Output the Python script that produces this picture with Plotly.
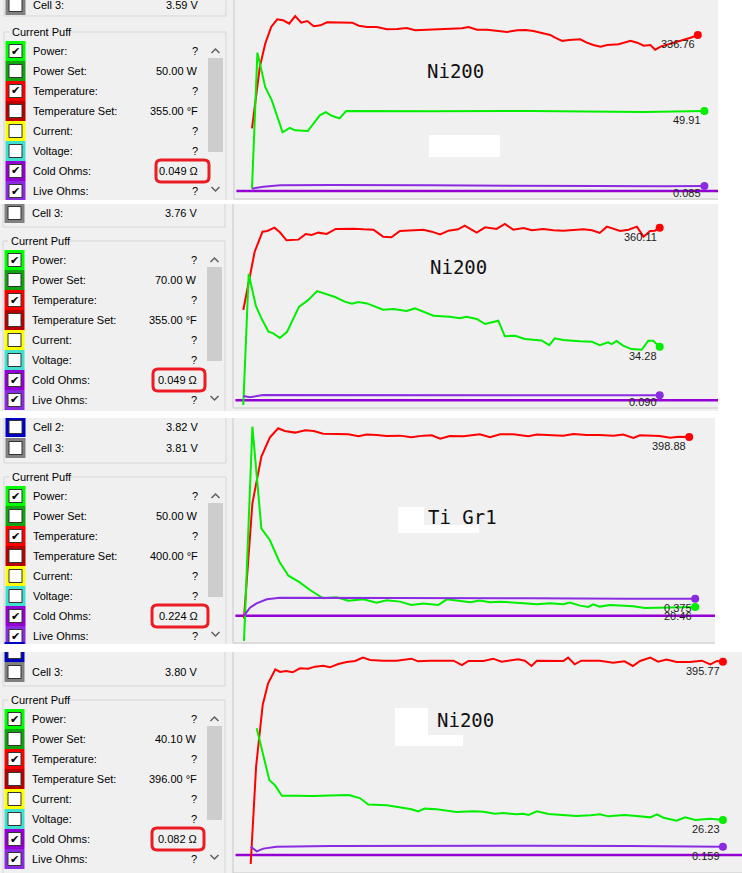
import plotly.graph_objects as go

W, H = 742, 873
PX_PER_S = 60          # chart time scale, pixels per second
UI_FONT = "Liberation Sans"
BG = "#f0f0f0"

# ---------------- data ----------------
row_labels = ["Power:", "Power Set:", "Temperature:", "Temperature Set:",
              "Current:", "Voltage:", "Cold Ohms:", "Live Ohms:"]
row_colors = ["#00ff00", "#10a410", "#ff0000", "#b80000",
              "#ffff00", "#40e0d0", "#9400d3", "#8a2be2"]
row_checked = [True, False, True, False, False, False, True, True]

materials = ["Ni200", "Ni200", "Ti Gr1", "Ni200"]
power_set = ["50.00 W", "70.00 W", "50.00 W", "40.10 W"]
temp_set = ["355.00 °F", "355.00 °F", "400.00 °F", "396.00 °F"]
cold_ohms = [0.049, 0.049, 0.224, 0.082]
cell2_volts = [None, None, "3.82 V", None]
cell3_volts = ["3.59 V", "3.76 V", "3.81 V", "3.80 V"]

# puff 1 (Ni200, 50 W)
p1_temp_t = [0, 0.13, 0.22, 0.32, 0.42, 0.52, 0.62, 0.72, 0.82, 0.92, 1.03, 1.14, 1.25, 1.47, 1.67,
             1.78, 1.92, 2.08, 2.25, 2.42, 2.58, 2.72, 3.03, 3.33, 3.5, 3.61, 3.75, 3.92, 4.08, 4.25,
             4.42, 4.56, 4.69, 4.83, 4.97, 5.06, 5.17, 5.28, 5.47, 5.58, 5.69, 5.81, 5.92, 6.11, 6.31,
             6.42, 6.53, 6.64, 6.72, 6.81, 6.92, 7.03, 7.17, 7.31, 7.43]
p1_temp = [143.9, 270.6, 318.8, 353.3, 369.1, 367.1, 360.2, 376.0, 362.2, 365.7, 354.7, 356.7, 362.9,
           362.2, 362.2, 356.0, 353.3, 353.3, 348.5, 349.2, 351.2, 346.4, 348.5, 349.2, 350.5, 353.3,
           347.8, 347.8, 345.0, 343.0, 346.4, 347.1, 345.0, 341.6, 336.8, 330.6, 324.4, 326.4, 327.8,
           320.9, 316.1, 312.7, 316.1, 317.5, 325.0, 320.9, 314.7, 316.1, 306.4, 312.7, 316.8, 320.2,
           326.4, 331.2, 336.76]
p1_power_t = [0, 0.09, 0.22, 0.33, 0.51, 0.63, 0.72, 0.93, 1.13, 1.23, 1.33, 1.46, 1.57, 2.97, 4.64,
              6.53, 7.54]
p1_power = [5.4, 83.4, 63.7, 56.0, 37.7, 40.2, 38.8, 38.4, 47.4, 49.3, 47.2, 45.7, 49.9, 49.7, 49.9,
            49.3, 49.91]
p1_live_t = [0, 0.19, 0.47, 1.31, 2.97, 4.64, 5.75, 6.86, 7.54]
p1_live = [0.066, 0.080, 0.090, 0.092, 0.090, 0.090, 0.085, 0.083, 0.085]

# puff 2 (Ni200, 70 W)
p2_temp_t = [0, 0.19, 0.32, 0.4, 0.52, 0.61, 0.72, 0.92, 1.04, 1.14, 1.25, 1.39, 1.54, 1.83, 2.0,
             2.17, 2.33, 2.47, 2.61, 2.81, 3.0, 3.14, 3.28, 3.42, 3.58, 3.69, 3.89, 4.03, 4.22, 4.36,
             4.5, 4.67, 4.81, 5.0, 5.17, 5.33, 5.5, 5.67, 5.81, 5.94, 6.06, 6.28, 6.42, 6.56, 6.67,
             6.78, 6.86, 6.94]
p2_temp = [193.9, 311.6, 352.0, 353.4, 360.1, 350.7, 334.5, 335.9, 347.3, 345.3, 350.0, 347.3, 357.4,
           358.0, 356.7, 356.0, 341.9, 340.6, 353.4, 354.7, 356.0, 352.0, 346.6, 354.0, 356.7, 364.1,
           350.0, 360.8, 357.4, 367.5, 356.0, 359.4, 354.7, 357.4, 354.7, 354.0, 356.0, 356.7, 354.7,
           349.3, 362.1, 353.4, 356.0, 362.1, 341.9, 353.4, 354.0, 360.11]
p2_power_t = [0, 0.09, 0.21, 0.31, 0.42, 0.5, 0.61, 0.73, 0.93, 1.08, 1.23, 1.39, 1.53, 1.69, 1.81,
              1.92, 2.06, 2.33, 2.5, 2.72, 2.86, 3.17, 3.44, 3.61, 3.72, 3.89, 4.03, 4.25, 4.36, 4.53,
              4.69, 4.97, 5.1, 5.19, 5.33, 5.61, 5.81, 5.94, 6.08, 6.14, 6.22, 6.33, 6.47, 6.64, 6.75,
              6.83, 6.94]
p2_power = [0.6, 76.3, 57.8, 50.1, 42.9, 42.0, 39.3, 42.9, 57.4, 61.2, 66.4, 64.7, 63.0, 60.3, 59.1,
            60.1, 59.3, 55.7, 56.0, 54.9, 56.4, 52.2, 51.6, 50.7, 51.6, 50.3, 47.4, 49.3, 40.3, 40.6,
            38.7, 37.9, 35.2, 39.1, 38.1, 37.4, 37.2, 35.2, 36.8, 35.8, 37.6, 34.9, 32.9, 32.5, 37.7,
            37.7, 34.28]
p2_live_t = [0, 0.11, 0.33, 0.89, 2.56, 4.22, 5.89, 6.94]
p2_live = [0.084, 0.073, 0.093, 0.093, 0.090, 0.090, 0.090, 0.090]

# puff 3 (Ti Gr1, 50 W)
p3_temp_t = [0, 0.14, 0.29, 0.43, 0.57, 0.68, 0.85, 1.02, 1.16, 1.32, 1.54, 1.74, 1.91, 2.04, 2.21,
             2.38, 2.6, 2.79, 2.99, 3.13, 3.27, 3.43, 3.66, 3.93, 4.1, 4.27, 4.49, 4.74, 4.88, 5.1,
             5.32, 5.49, 5.71, 5.93, 6.16, 6.32, 6.49, 6.6, 6.77, 6.93, 7.1, 7.24, 7.42]
p3_temp = [44.3, 269.2, 360.4, 397.6, 415.9, 410.6, 407.4, 411.9, 410.6, 405.4, 404.8, 404.1, 400.2,
           403.5, 402.8, 400.9, 401.5, 398.2, 401.5, 402.2, 395.6, 400.9, 400.2, 404.1, 398.2, 404.1,
           404.1, 400.2, 403.5, 402.2, 401.5, 404.8, 402.8, 402.8, 401.5, 403.5, 397.0, 402.2, 401.5,
           400.9, 397.6, 399.5, 398.88]
p3_power_t = [0, 0.14, 0.29, 0.43, 0.59, 0.74, 0.93, 1.1, 1.32, 1.54, 1.74, 1.99, 2.21, 2.38, 2.6,
              2.79, 2.99, 3.24, 3.38, 3.66, 3.77, 3.93, 4.1, 4.27, 4.49, 4.66, 4.88, 5.1, 5.32, 5.43,
              5.6, 5.74, 5.82, 5.93, 6.1, 6.29, 6.49, 6.68, 6.93, 7.16, 7.52]
p3_power = [0.0, 129.0, 67.6, 60.8, 47.7, 39.3, 35.3, 30.7, 25.7, 26.3, 24.3, 25.1, 23.1, 24.5, 23.7,
            21.7, 22.5, 21.7, 25.1, 24.1, 23.3, 24.3, 23.3, 23.7, 22.9, 22.7, 22.1, 22.7, 22.1, 23.1,
            21.3, 20.5, 22.1, 20.7, 21.7, 21.3, 20.9, 19.9, 20.1, 20.3, 20.46]
p3_live_t = [0, 0.1, 0.21, 0.38, 0.6, 1.16, 3.1, 4.77, 6.43, 7.52]
p3_live = [0.224, 0.295, 0.334, 0.369, 0.384, 0.384, 0.378, 0.378, 0.375, 0.375]

# puff 4 (Ni200, 40.1 W)
p4_temp_t = [0, 0.09, 0.2, 0.29, 0.41, 0.49, 0.59, 0.7, 0.82, 0.96, 1.07, 1.21, 1.32, 1.46, 1.6,
             1.74, 1.87, 1.99, 2.21, 2.43, 2.68, 2.79, 2.99, 3.21, 3.38, 3.52, 3.63, 3.88, 4.04, 4.18,
             4.32, 4.46, 4.57, 4.68, 4.77, 4.99, 5.21, 5.29, 5.4, 5.51, 5.82, 6.04, 6.23, 6.37, 6.49,
             6.66, 6.79, 6.93, 7.1, 7.32, 7.52, 7.66, 7.77, 7.87]
p4_temp = [0.0, 190.4, 311.0, 353.4, 380.8, 375.6, 377.6, 375.0, 382.8, 382.1, 386.0, 387.9, 384.7,
           391.2, 395.1, 397.1, 403.6, 399.0, 397.7, 397.7, 401.6, 396.4, 397.7, 397.1, 397.7, 389.2,
           397.1, 397.1, 401.6, 395.8, 397.7, 400.3, 397.7, 387.3, 397.7, 397.1, 397.1, 403.6, 390.6,
           397.7, 397.7, 393.8, 396.4, 387.3, 397.1, 403.6, 395.8, 399.7, 395.1, 395.1, 397.7, 390.6,
           397.1, 395.77]
p4_power_t = [0.1, 0.31, 0.41, 0.52, 0.77, 1.04, 1.32, 1.63, 1.82, 1.96, 2.27, 2.49, 2.68, 2.79, 2.9,
              3.1, 3.43, 3.71, 3.88, 4.07, 4.21, 4.43, 4.54, 4.63, 4.77, 4.96, 5.21, 5.43, 5.66, 5.82,
              5.96, 6.23, 6.43, 6.66, 6.77, 6.88, 7.1, 7.24, 7.41, 7.54, 7.66, 7.87]
p4_power = [80.9, 50.1, 46.7, 40.7, 40.7, 40.5, 40.9, 41.1, 39.3, 35.4, 35.0, 33.8, 32.6, 31.4, 33.0,
            32.6, 31.0, 31.4, 31.2, 30.0, 30.4, 29.6, 30.0, 29.2, 31.4, 29.8, 29.2, 28.6, 29.0, 29.6,
            28.4, 29.2, 28.6, 27.8, 29.6, 27.6, 25.8, 27.8, 26.2, 26.6, 27.0, 26.23]
p4_live_t = [0, 0.1, 0.21, 0.43, 1.32, 2.99, 4.66, 6.32, 7.87]
p4_live = [0.159, 0.116, 0.141, 0.159, 0.165, 0.168, 0.168, 0.165, 0.159]

series = [
    [(p1_temp_t, p1_temp), (p1_power_t, p1_power), (p1_live_t, p1_live)],
    [(p2_temp_t, p2_temp), (p2_power_t, p2_power), (p2_live_t, p2_live)],
    [(p3_temp_t, p3_temp), (p3_power_t, p3_power), (p3_live_t, p3_live)],
    [(p4_temp_t, p4_temp), (p4_power_t, p4_power), (p4_live_t, p4_live)],
]

# ---------------- screen layout (pixels) ----------------
panels = [
    dict(area=(0, 0, 718, 200), box=(234, 718, 0, 199), zero=198, t0=252.0,
         scale=(2.066, 0.5737, 0.0071), dx=0, cells=[("Cell 3:", 5, 2)], cell_bottom=16,
         row0=51, ring=(156, 209), mat=(455, 71), white=[(429, 135, 500, 157)], patch=[]),
    dict(area=(0, 204, 718, 411), box=(233, 718, 204, 408), zero=406, t0=243.3,
         scale=(2.019, 0.578, 0.00843), dx=-1, cells=[("Cell 3:", 213, 2)], cell_bottom=227,
         row0=260, ring=(153, 205), mat=(459, 267), white=[], patch=[]),
    dict(area=(0, 418, 715, 644), box=(233, 715, 418, 643), zero=641, t0=244.0,
         scale=(1.955, 0.602, 0.00886), dx=0, cells=[("Cell 2:", 427, 1), ("Cell 3:", 448, 2)],
         cell_bottom=463, row0=496, ring=(152, 208), mat=(462, 517),
         white=[(398, 507, 479, 533)], patch=[(424, 507, 498, 525)]),
    dict(area=(0, 652, 742, 873), box=(233, 742, 652, 873), zero=864, t0=250.7,
         scale=(1.956, 0.596, 0.00917), dx=-1, cells=[("", 652, 1), ("Cell 3:", 672, 2)],
         cell_bottom=686, row0=719, ring=(152, 204), mat=(465, 720),
         white=[(395, 708, 463, 746)], patch=[(428, 708, 497, 735)]),
]
cell_colors = {1: "#0000c0", 2: "#808080"}
line_colors = ["#ff0000", "#00ee00", "#8a2be2"]
label_fmt = ["{:.2f}", "{:.2f}", "{:.3f}"]


def fx(x):
    return x / W


def fy(y):
    return 1 - y / H


shapes = []
annotations = []


def rect(x0, y0, x1, y1, fill, line=None, width=1):
    shapes.append(dict(type="rect", xref="paper", yref="paper", layer="below",
                       x0=fx(x0), x1=fx(x1), y0=fy(y1), y1=fy(y0), fillcolor=fill,
                       line=dict(color=line or "rgba(0,0,0,0)", width=width if line else 0)))


def seg(x0, y0, x1, y1, color="#d6d6d6", width=1):
    shapes.append(dict(type="line", xref="paper", yref="paper", layer="below",
                       x0=fx(x0), x1=fx(x1), y0=fy(y0), y1=fy(y1),
                       line=dict(color=color, width=width)))


def path(points, color, width=1.5):
    d = "M " + " L ".join(f"{fx(x):.5f},{fy(y):.5f}" for x, y in points)
    shapes.append(dict(type="path", xref="paper", yref="paper", layer="below", path=d,
                       line=dict(color=color, width=width)))


def ring(x0, y0, x1, y1, r=5):
    p = lambda x, y: f"{fx(x):.5f},{fy(y):.5f}"
    d = (f"M {p(x0 + r, y0)} L {p(x1 - r, y0)} Q {p(x1, y0)} {p(x1, y0 + r)} "
         f"L {p(x1, y1 - r)} Q {p(x1, y1)} {p(x1 - r, y1)} L {p(x0 + r, y1)} "
         f"Q {p(x0, y1)} {p(x0, y1 - r)} L {p(x0, y0 + r)} Q {p(x0, y0)} {p(x0 + r, y0)} Z")
    shapes.append(dict(type="path", xref="paper", yref="paper", layer="below", path=d,
                       line=dict(color="#ec1c24", width=3)))


def text(x, y, s, anchor="left", size=11, family=UI_FONT, color="#000000"):
    annotations.append(dict(x=fx(x), y=fy(y), xref="paper", yref="paper", text=s,
                            showarrow=False, xanchor=anchor, yanchor="middle",
                            font=dict(family=family, size=size, color=color)))


def checkbox(cx, cy, fill, checked):
    rect(cx - 10, cy - 10, cx + 10, cy + 10, fill)
    rect(cx - 6.5, cy - 6.5, cx + 6.5, cy + 6.5, "#ffffff", "#333333", 1)
    if checked:
        text(cx, cy, "✔", anchor="center", size=11, family="DejaVu Sans")


fig = go.Figure()
axes = {}

for k, p in enumerate(panels):
    ax0, ay0, ax1, ay1 = p["area"]
    bx0, bx1, by0, by1 = p["box"]
    dx = p["dx"]
    rect(ax0, ay0, ax1, ay1, BG)

    # ---- left side: channel list ----
    for name, cy, ci in p["cells"]:
        checkbox(15.5 + dx, cy, cell_colors[ci], False)
        if name:
            text(31 + dx, cy, name)
            text(200 + dx, cy, cell2_volts[k] if ci == 1 else cell3_volts[k], anchor="right")
    gl, gr = 4 + dx, 226 + dx
    seg(gl, ay0, gl, p["cell_bottom"])
    seg(gr, ay0, gr, p["cell_bottom"])
    seg(gl, p["cell_bottom"], gr, p["cell_bottom"])
    gy = p["row0"] - 19
    seg(gl, gy, 9 + dx, gy)
    seg(69 + dx, gy, gr, gy)
    seg(gl, gy, gl, ay1)
    seg(gr, gy, gr, ay1)
    text(10 + dx, gy, "Current Puff")

    values = ["?", power_set[k], "?", temp_set[k], "?", "?", f"{cold_ohms[k]:.3f} Ω", "?"]
    for i, lab in enumerate(row_labels):
        cy = p["row0"] + 20 * i
        checkbox(15.5 + dx, cy, row_colors[i], row_checked[i])
        text(31 + dx, cy, lab)
        text(200 + dx, cy, values[i], anchor="right")
    cy_cold = p["row0"] + 120
    ring(p["ring"][0], cy_cold - 11, p["ring"][1], cy_cold + 11)

    sx = 215.5 + dx
    rect(sx - 7.5, p["row0"] + 7, sx + 7.5, p["row0"] + 101, "#cdcdcd")
    path([(sx - 4, p["row0"] + 2), (sx, p["row0"] - 2), (sx + 4, p["row0"] + 2)], "#606060")
    yd = p["row0"] + 138
    path([(sx - 4, yd - 2), (sx, yd + 2), (sx + 4, yd - 2)], "#606060")

    # ---- right side: chart ----
    seg(bx0, by0, bx0, by1, "#c8c8c8")
    seg(bx0, by1, bx1, by1, "#c8c8c8")
    for (x0, y0, x1, y1) in p["white"]:
        rect(x0, y0, x1, y1, "#ffffff")
    for (x0, y0, x1, y1) in p["patch"]:
        rect(x0, y0, x1, y1, BG)
    text(p["mat"][0], p["mat"][1], materials[k], anchor="center", size=19,
         family="DejaVu Sans Mono", color="#111111")

    xi = k + 1
    xref = "x" if xi == 1 else f"x{xi}"
    ybase = 3 * k + 1
    yref0 = "y" if ybase == 1 else f"y{ybase}"
    axes["xaxis" if xi == 1 else f"xaxis{xi}"] = dict(
        domain=[fx(bx0), fx(bx1)], anchor=yref0, visible=False, fixedrange=True,
        range=[(bx0 - p["t0"]) / PX_PER_S, (bx1 - p["t0"]) / PX_PER_S])
    for j in range(3):
        yi = ybase + j
        s = p["scale"][j]
        ax = dict(domain=[fy(by1), fy(by0)], anchor=xref, visible=False, fixedrange=True,
                  range=[-(by1 - p["zero"]) * s, (p["zero"] - by0) * s])
        if j:
            ax["overlaying"] = yref0
        axes["yaxis" if yi == 1 else f"yaxis{yi}"] = ax

    yohm = f"y{ybase + 2}"
    shapes.append(dict(type="line", xref=f"{xref} domain", yref=yohm, x0=0.005, x1=1,
                       y0=cold_ohms[k], y1=cold_ohms[k], layer="below",
                       line=dict(color="#9400d3", width=2.5)))

    for j, (tt, vv) in enumerate(series[k]):
        yref = "y" if ybase + j == 1 else f"y{ybase + j}"
        fig.add_trace(go.Scatter(x=tt, y=vv, xaxis=xref, yaxis=yref, mode="lines",
                                 line=dict(color=line_colors[j], width=2), hoverinfo="skip"))
        fig.add_trace(go.Scatter(x=[tt[-1]], y=[vv[-1]], xaxis=xref, yaxis=yref, mode="markers",
                                 marker=dict(color=line_colors[j], size=8), hoverinfo="skip"))
        s = p["scale"][j]
        dot_px = p["zero"] - vv[-1] / s
        top = dot_px + 1
        if top + 13 > by1:
            top = by1 - 14
        annotations.append(dict(x=tt[-1], y=vv[-1], xref=xref, yref=yref,
                                text=label_fmt[j].format(vv[-1]), showarrow=False,
                                xanchor="right", yanchor="top", xshift=-1,
                                yshift=-(top - dot_px),
                                font=dict(family=UI_FONT, size=11, color="#1a1a1a")))

# white gaps between the stacked screenshots
rect(0, 200, 742, 204, "#ffffff")
rect(0, 411, 742, 418, "#ffffff")
rect(0, 644, 742, 652, "#ffffff")

fig.update_layout(
    width=W, height=H, margin=dict(l=0, r=0, t=0, b=0),
    paper_bgcolor="#ffffff", plot_bgcolor="rgba(0,0,0,0)",
    showlegend=False, shapes=shapes, annotations=annotations, **axes)

# the figure is sized to the window, so drop the page's default body margin
fig.write_html("out.html", config={"displayModeBar": False},
               post_script="document.body.style.margin='0';document.body.style.overflow='hidden';")
